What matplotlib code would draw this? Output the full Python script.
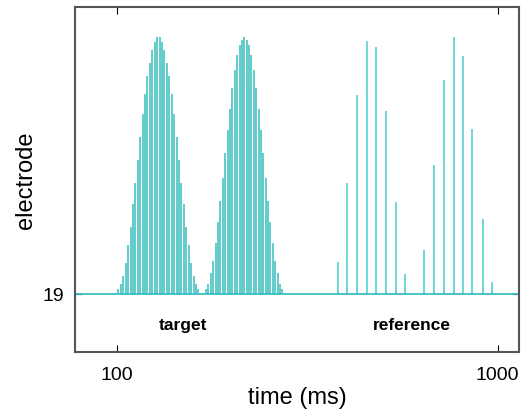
import matplotlib
matplotlib.use("Agg")
import matplotlib.pyplot as plt
from matplotlib.ticker import FixedLocator, NullLocator

plt.rcParams["font.family"] = ["Liberation Sans", "DejaVu Sans"]

# target: two dense bursts of pulses (time in ms, relative amplitude)
target_t1 = [101.0, 102.5, 104.0, 105.5, 107.1, 108.7, 110.3, 111.9, 113.6, 115.2,
             116.9, 118.7, 120.4, 122.2, 124.0, 125.8, 127.7, 129.6, 131.5, 133.4,
             135.4, 137.4, 139.4, 141.5, 143.6, 145.7, 147.8, 150.0, 152.2, 154.5,
             156.8, 159.1, 161.4, 163.8]
target_h1 = [0.02, 0.04, 0.07, 0.12, 0.19, 0.26, 0.35, 0.43, 0.52, 0.61,
             0.70, 0.78, 0.85, 0.90, 0.95, 0.98, 1.00, 1.00, 0.98, 0.95,
             0.90, 0.85, 0.78, 0.70, 0.61, 0.52, 0.43, 0.35, 0.26, 0.19,
             0.12, 0.07, 0.04, 0.02]
target_t2 = [171.6, 174.1, 176.6, 179.2, 181.8, 184.4, 187.1, 189.8, 192.6, 195.4,
             198.2, 201.1, 204.0, 207.0, 210.0, 213.0, 216.1, 219.2, 222.4, 225.6,
             228.9, 232.2, 235.6, 239.0, 242.5, 246.0, 249.6, 253.2, 256.9, 260.6,
             264.4, 268.2, 272.1]
target_h2 = [0.02, 0.04, 0.08, 0.13, 0.20, 0.28, 0.36, 0.45, 0.55, 0.64,
             0.72, 0.80, 0.87, 0.93, 0.97, 0.99, 1.00, 0.99, 0.97, 0.93,
             0.87, 0.80, 0.72, 0.64, 0.55, 0.45, 0.36, 0.28, 0.20, 0.13,
             0.08, 0.04, 0.02]

# reference: sparse pulses
ref_t = [380, 402, 428, 454, 478, 510, 540, 572,
         641, 681, 721, 768, 811, 858, 914, 965]
ref_h = [0.123, 0.432, 0.773, 0.984, 0.960, 0.711, 0.359, 0.078,
         0.172, 0.503, 0.832, 1.000, 0.925, 0.642, 0.293, 0.046]

electrode = 19
xticks = [100, 1000]
labels = ["target", "reference"]
label_t = [149, 595]

teal = "#38bfbf"
light = "#6fd6d6"

fig = plt.figure(figsize=(5.21, 4.10), dpi=100)
ax = fig.add_axes([0.144, 0.139, 0.852, 0.8415])

ax.vlines(target_t1, electrode, [electrode + h for h in target_h1], color=teal, lw=1.1)
ax.vlines(target_t2, electrode, [electrode + h for h in target_h2], color=teal, lw=1.1)
ax.vlines(ref_t, electrode, [electrode + h for h in ref_h], color=light, lw=1.4)
ax.axhline(electrode, color=teal, lw=1.3)

for t, s in zip(label_t, labels):
    ax.text(t, 18.883, s, ha="center", va="center", fontsize=12.5, fontweight="bold")

ax.set_xscale("log")
ax.set_xlim(77.7, 1137)
ax.set_ylim(18.774, 20.117)
ax.xaxis.set_major_locator(FixedLocator(xticks))
ax.xaxis.set_minor_locator(NullLocator())
ax.set_xticklabels([str(v) for v in xticks])
ax.set_yticks([electrode])
ax.tick_params(axis="x", direction="in", top=True, length=5, labelsize=14, pad=10)
ax.tick_params(axis="y", direction="in", right=True, length=5, labelsize=14, pad=8)
for sp in ax.spines.values():
    sp.set_color("#555555")
    sp.set_linewidth(1.5)

ax.set_xlabel("time (ms)", fontsize=17, labelpad=2)
ax.set_ylabel("electrode", fontsize=17, labelpad=4)

fig.savefig("out.png", dpi=100)
